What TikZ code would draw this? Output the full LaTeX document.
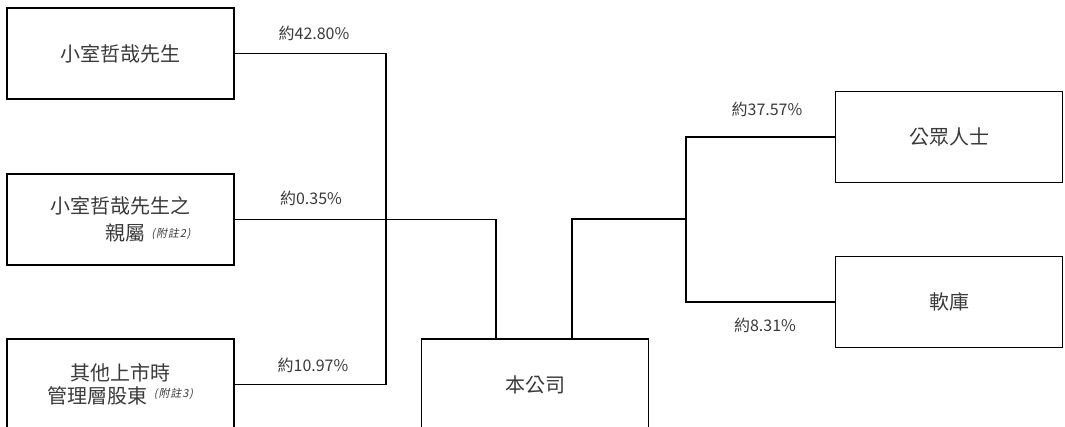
\documentclass[tikz,border=0pt]{standalone}
\usepackage{fontspec}
\setmainfont{Noto Sans CJK TC}
\newfontfamily\notefont[FakeSlant=0.2,LetterSpace=8]{Noto Sans CJK TC}
\definecolor{txt}{HTML}{3A3A3A}
\newcommand{\fnote}[2]{\hspace{6pt}\raisebox{#1}{\fontsize{11}{12}\selectfont\notefont\color{txt}#2}}
\begin{document}
\begin{tikzpicture}[x=1pt,y=-1pt,
  ent/.style={draw=black,line width=1.2pt,minimum width=227pt,minimum height=91pt,inner sep=0pt,
    text=txt,font=\fontsize{20}{27}\selectfont},
  conn/.style={draw=black,line width=1.2pt},
  pct/.style={text=txt,font=\fontsize{16}{18}\selectfont,inner sep=0pt}]
\useasboundingbox (0,0) rectangle (1065,427);
\clip (0,0) rectangle (1065,427);
\fill[white] (0,0) rectangle (1065,427);
\node[ent] (b1) at (120.5,53.5) {小室哲哉先生};
\node[ent,align=right] (b2) at (120.5,219.5) {小室哲哉先生之\\親屬\fnote{3pt}{(附註2)}};
\node[ent,align=center,font=\fontsize{20}{23}\selectfont] (b3) at (120.5,384.5) {其他上市時\\管理層股東\fnote{6pt}{(附註3)}};
\node[ent] (co) at (535,384.5) {本公司};
\node[ent] (pub) at (949,137) {公眾人士};
\node[ent] (sb) at (949,302) {軟庫};
\coordinate (j1) at (386,219);
\coordinate (j3) at (686,219);
\draw[conn] (b1.east) -| (j1) |- (b3.east);
\draw[conn] (b2.east) -| ([xshift=-39pt]co.north);
\draw[conn] ([xshift=37pt]co.north) |- (j3);
\draw[conn] (pub.west) -| (j3) |- (sb.west);
\node[pct] (l1) at (314,33) {約42.80\%};
\node[pct] (l2) at (311,198) {約0.35\%};
\node[pct] (l3) at (313,365) {約10.97\%};
\node[pct] (l4) at (767,109) {約37.57\%};
\node[pct] (l5) at (765,325) {約8.31\%};
\end{tikzpicture}
\end{document}
